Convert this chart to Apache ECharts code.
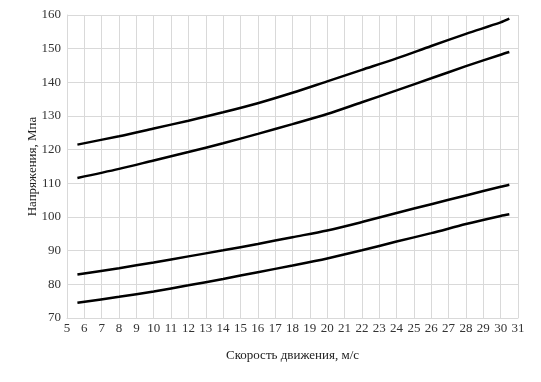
<!DOCTYPE html>
<html><head><meta charset="utf-8">
<script src="https://cdn.jsdelivr.net/npm/echarts@6/dist/echarts.min.js"></script>
<style>html,body{margin:0;padding:0;background:#fff}#c{width:541px;height:382px}</style>
</head><body><div id="c"></div>
<script>
var speed = [5.6, 8, 10, 12, 14, 16, 18, 20, 22, 24, 26, 28, 30, 30.5];
var stressA = [121.5, 124.0, 126.3, 128.6, 131.1, 133.8, 136.9, 140.3, 143.7, 147.1, 150.8, 154.4, 157.8, 158.9];
var stressB = [111.6, 114.3, 116.8, 119.3, 121.9, 124.7, 127.6, 130.6, 134.1, 137.6, 141.2, 144.8, 148.2, 149.0];
var stressC = [82.9, 84.8, 86.5, 88.3, 90.1, 92.0, 94.0, 96.0, 98.5, 101.2, 103.8, 106.4, 109.0, 109.6];
var stressD = [74.5, 76.3, 77.9, 79.7, 81.6, 83.6, 85.6, 87.7, 90.1, 92.7, 95.2, 97.9, 100.3, 100.8];
var xTitle = 'Скорость движения, м/с';
var yTitle = 'Напряжения, Мпа';

function pairs(ys){ return speed.map(function(x,i){ return [x, ys[i]]; }); }
var font = '"Liberation Serif", "DejaVu Serif", serif';
var gridLine = {show:true, lineStyle:{color:'#d9d9d9', width:1}};
var chart = echarts.init(document.getElementById('c'), null, {renderer:'canvas'});
function mk(ys){
  return {type:'line', data:pairs(ys), showSymbol:false, smooth:0.3,
    lineStyle:{color:'#000', width:2.5}, animation:false};
}
chart.setOption({
  animation:false,
  grid:{left:67, right:23, top:15, bottom:64},
  xAxis:{type:'value', min:5, max:31, interval:1,
    name:xTitle, nameLocation:'middle', nameGap:31, nameMoveOverlap:false,
    nameTextStyle:{fontFamily:font, fontSize:13, color:'#222'},
    axisLine:{show:true, lineStyle:{color:'#d9d9d9'}}, axisTick:{show:false},
    axisLabel:{fontFamily:font, fontSize:13, color:'#333', margin:4},
    splitLine:gridLine},
  yAxis:{type:'value', min:70, max:160, interval:10,
    name:yTitle, nameLocation:'middle', nameGap:28, nameRotate:90, nameMoveOverlap:false,
    nameTextStyle:{fontFamily:font, fontSize:13, color:'#222'},
    axisLine:{show:true, lineStyle:{color:'#d9d9d9'}}, axisTick:{show:false},
    axisLabel:{fontFamily:font, fontSize:13, color:'#333', margin:6},
    splitLine:gridLine},
  series:[mk(stressA), mk(stressB), mk(stressC), mk(stressD)]
});
</script></body></html>
